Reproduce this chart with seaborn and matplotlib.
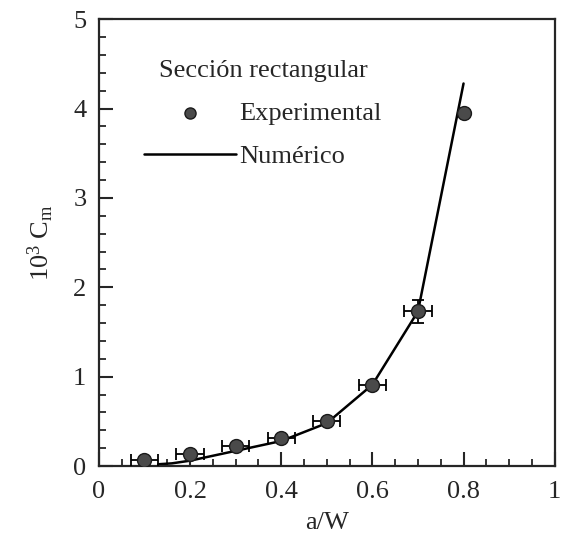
import numpy as np
import pandas as pd
import matplotlib
matplotlib.use('Agg')
import matplotlib.pyplot as plt
from matplotlib.ticker import MultipleLocator
import seaborn as sns

# experimental points (a/W, 10^3 Cm) with error bars
exp_aw = [0.1, 0.2, 0.3, 0.4, 0.5, 0.6, 0.7, 0.8]
exp_cm = [0.07, 0.14, 0.22, 0.31, 0.50, 0.91, 1.73, 3.95]
exp_xerr = [0.03, 0.03, 0.03, 0.03, 0.03, 0.03, 0.03, 0.0]
exp_yerr = [0.0, 0.0, 0.0, 0.0, 0.0, 0.0, 0.13, 0.0]

# numerical curve
num_aw = [0.13, 0.16, 0.2, 0.3, 0.4, 0.5, 0.6, 0.7, 0.8]
num_cm = [0.02, 0.03, 0.06, 0.17, 0.28, 0.48, 0.91, 1.73, 4.28]

x_ticks = [0, 0.2, 0.4, 0.6, 0.8, 1]
x_ticklabels = ["0", "0.2", "0.4", "0.6", "0.8", "1"]
y_ticks = [0, 1, 2, 3, 4, 5]

sns.set_style("ticks")
plt.rcParams['font.family'] = ['Liberation Serif', 'DejaVu Serif']
plt.rcParams['mathtext.fontset'] = 'stix'

fig = plt.figure(figsize=(5.62, 5.47), dpi=100)
ax = fig.add_axes([0.176, 0.148, 0.811, 0.817])

df_num = pd.DataFrame({"aw": num_aw, "cm": num_cm})
df_exp = pd.DataFrame({"aw": exp_aw, "cm": exp_cm})

sns.lineplot(data=df_num, x="aw", y="cm", color="black", linewidth=1.8,
             ax=ax, label="Numérico", zorder=2)
ax.errorbar(exp_aw, exp_cm, xerr=exp_xerr, yerr=exp_yerr, fmt='none',
            ecolor="black", elinewidth=1.3, capsize=4, capthick=1.3, zorder=3)
sns.scatterplot(data=df_exp, x="aw", y="cm", color="#4a4a4a", edgecolor="#1a1a1a",
                linewidth=1.0, s=100, ax=ax, label="Experimental", zorder=4)

ax.set_xlim(0, 1)
ax.set_ylim(0, 5)
ax.set_xticks(x_ticks)
ax.set_xticklabels(x_ticklabels)
ax.set_yticks(y_ticks)
ax.xaxis.set_minor_locator(MultipleLocator(0.05))
ax.yaxis.set_minor_locator(MultipleLocator(0.2))
ax.tick_params(which="major", direction="in", length=10, width=1.5, labelsize=19)
ax.tick_params(which="minor", direction="in", length=5, width=1.3)
ax.tick_params(axis="x", which="major", pad=11)
ax.tick_params(axis="y", which="major", pad=9)
for s in ax.spines.values():
    s.set_linewidth(1.6)
    s.set_visible(True)

ax.set_xlabel("a/W", fontsize=19, labelpad=6)
ax.set_ylabel(r"$\mathregular{10^3\ C_m}$", fontsize=19, labelpad=12)

handles, labels = ax.get_legend_handles_labels()
order = [labels.index("Experimental"), labels.index("Numérico")]
leg = ax.legend([handles[i] for i in order], [labels[i] for i in order],
                title="Sección rectangular", title_fontsize=19, fontsize=19,
                frameon=False, loc="upper left", bbox_to_anchor=(0.047, 0.962),
                handlelength=3.5, handletextpad=0.12, labelspacing=0.75,
                markerscale=0.8)
leg._legend_box.sep = 14

fig.savefig("out.png", dpi=100)
